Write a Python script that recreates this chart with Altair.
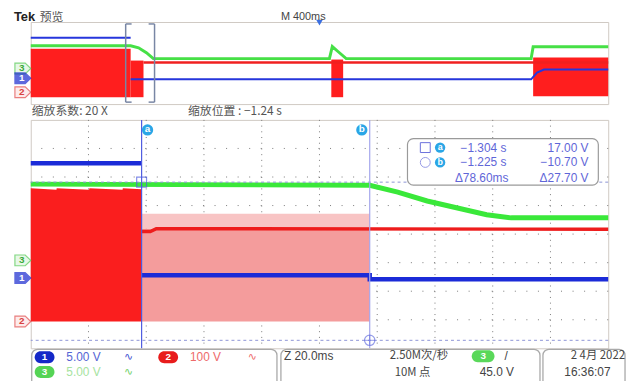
import altair as alt
import pandas as pd

LAT = "Liberation Sans"
CJK = "Noto Sans CJK SC"

# ------------------------------------------------------------------
# Values.
# Time in seconds (relative to trigger), vertical position in screen
# divisions (0 = bottom graticule line, 8 = top graticule line).
# ------------------------------------------------------------------
# overview record: M 400 ms/div x 10 div
OV_T0, OV_T1 = -2.0, 2.0
# zoom window: factor 20 -> 20 ms/div x 10 div
MAIN_T0 = -1.3424
MAIN_T1 = MAIN_T0 + 0.200

# --- overview traces ---
ov_blue_t = [-2.0, -1.308, -1.308, 1.466, 1.507, 1.555, 2.0]
ov_blue_y = [6.46, 6.46, 2.41, 2.41, 3.08, 3.37, 3.37]
ov_blue_seg = [0, 0, 1, 1, 1, 1, 1]

ov_green_t = [-2.0, -1.308, -1.253, -1.199, -1.151, 0.069, 0.089, 0.130, 0.185, 1.466, 1.480, 2.0]
ov_green_y = [5.69, 5.69, 5.49, 5.01, 4.43, 4.43, 5.61, 5.10, 4.43, 4.43, 5.59, 5.59]

ov_red_t0 = [-2.0, -1.308, 0.082, 1.480]
ov_red_t1 = [-1.308, -1.219, 0.164, 2.0]
ov_red_top = [5.40, 4.24, 4.34, 4.53]
ov_red_bot = [0.67, 0.67, 0.67, 0.77]
ov_red_line_t = [-1.219, 2.0]
ov_red_line_y = [4.05, 4.05]

trigger_t = [0.0]

# --- zoomed traces ---
m_blue_t = [MAIN_T0, -1.304, -1.304, -1.225, -1.225, MAIN_T1]
m_blue_y = [6.48, 6.48, 2.56, 2.56, 2.42, 2.42]
m_blue_seg = [0, 0, 1, 1, 1, 1]

m_green_t = [MAIN_T0, -1.225, -1.2153, -1.2051, -1.1931, -1.1845, -1.1760, MAIN_T1]
m_green_y = [5.75, 5.71, 5.47, 5.16, 4.88, 4.68, 4.57, 4.57]

# ch2 while switching hard (envelope top, sawtooth)
m_red_on_t = [MAIN_T0, -1.3335, -1.3334, -1.3222, -1.3221, -1.3106, -1.3105, -1.304]
m_red_on_top = [5.61, 5.55, 5.61, 5.55, 5.61, 5.55, 5.61, 5.57]
m_red_bottom = 0.935
# ch2 light switching band between the cursors
m_band_t0, m_band_t1 = [-1.304], [-1.225]
m_band_top, m_band_mid = [4.71], [4.19]
# ch2 average level
m_red_t = [-1.304, -1.3010, -1.2989, MAIN_T1]
m_red_y = [4.09, 4.09, 4.19, 4.17]

# cursors (readout values)
cur_t = [-1.304, -1.225]
cur_v = [17.00, -10.70]
CH1_OFFSET_DIV = 2.42
CH1_VOLTS_PER_DIV = 5.0
cur_div = [CH1_OFFSET_DIV + v / CH1_VOLTS_PER_DIV for v in cur_v]
cur_names = ["a", "b"]

# channel markers
ch_ids = ["3", "1", "2"]
ch_colors = ["#4fc84f", "#1a2ad0", "#e04848"]
ov_marker_y = [3.47, 2.51, 1.16]
main_marker_y = [3.08, 2.46, 0.94]

# readout texts
readout_time = ["\u22121.304 s", "\u22121.225 s"]
readout_volt = ["17.00 V", "\u221210.70 V"]
readout_delta = ["\u039478.60ms", "\u039427.70 V"]

# ------------------------------------------------------------------
def X(field, dom):
    return alt.X(f"{field}:Q", scale=alt.Scale(domain=dom, nice=False, zero=False), axis=None)


def Y(field):
    return alt.Y(f"{field}:Q", scale=alt.Scale(domain=[0, 8], nice=False, zero=False), axis=None)


def trace(t, y, dom, color, width, seg=None):
    df = pd.DataFrame({"t": t, "y": y, "i": list(range(len(t))),
                       "s": seg if seg is not None else [0] * len(t)})
    return alt.Chart(df).mark_line(color=color, strokeWidth=width).encode(
        x=X("t", dom), y=Y("y"), order="i:Q", detail="s:N")


def rects(t0, t1, y0, y1, dom, color):
    df = pd.DataFrame({"t0": t0, "t1": t1, "y0": y0, "y1": y1})
    return alt.Chart(df).mark_rect(color=color).encode(
        x=X("t0", dom), x2="t1:Q", y=Y("y0"), y2="y1:Q")


def stext(rows, **kw):
    df = pd.DataFrame(rows, columns=["px", "py", "text"])
    return alt.Chart(df).mark_text(**kw).encode(
        x=alt.X("px:Q", scale=None, axis=None),
        y=alt.Y("py:Q", scale=None, axis=None),
        text="text:N")


def sbox(rows, **kw):
    df = pd.DataFrame(rows, columns=["px", "px2", "py", "py2"])
    return alt.Chart(df).mark_rect(**kw).encode(
        x=alt.X("px:Q", scale=None, axis=None), x2="px2:Q",
        y=alt.Y("py:Q", scale=None, axis=None), y2="py2:Q")


def markers(ys, dom):
    df = pd.DataFrame({"t": [dom[0]] * 3, "y": ys, "id": ch_ids, "c": ch_colors,
                       "f": ["#dff5df", "#1a2ad0", "#fde3e3"],
                       "tc": ["#3aaa3a", "white", "#d84040"]})
    tag = "M -1 -0.68 L 0.3 -0.68 L 1 0 L 0.3 0.68 L -1 0.68 Z"
    pts = alt.Chart(df).mark_point(shape=tag, size=256, filled=True, xOffset=-8, strokeWidth=1.2).encode(
        x=X("t", dom), y=Y("y"),
        fill=alt.Fill("f:N", scale=None), stroke=alt.Stroke("c:N", scale=None))
    lbl = alt.Chart(df).mark_text(dx=-9, fontSize=10, fontWeight="bold", font=LAT).encode(
        x=X("t", dom), y=Y("y"), text="id:N", color=alt.Color("tc:N", scale=None))
    return pts + lbl


OV = [OV_T0, OV_T1]
MD = [MAIN_T0, MAIN_T1]

# ------------------------- overview panel -------------------------
T = 6 / 146.0  # bracket tick length (s)
bracket_df = pd.DataFrame({
    "t": [MAIN_T0, MAIN_T0, MAIN_T0, MAIN_T1, MAIN_T1 - T, MAIN_T1 - T],
    "t2": [MAIN_T0, MAIN_T0 + T, MAIN_T0 + T, MAIN_T1, MAIN_T1, MAIN_T1],
    "y": [0.19, 7.81, 0.19, 0.19, 7.81, 0.19],
    "y2": [7.81, 7.81, 0.19, 7.81, 7.81, 0.19]})
bracket = alt.Chart(bracket_df).mark_rule(color="#7886a4", strokeWidth=1.5).encode(
    x=X("t", OV), x2="t2:Q", y=Y("y"), y2="y2:Q")

trig = alt.Chart(pd.DataFrame({"t": trigger_t, "y": [7.95]})).mark_point(
    shape="triangle-down", filled=True, color="#3b6fe0", size=45, opacity=1).encode(x=X("t", OV), y=Y("y"))

ov_header = (stext([(-17, -1, "Tek")], align="left", baseline="alphabetic", font=LAT,
                   fontSize=13, fontWeight="bold", color="#222222")
             + stext([(9, -1, "预览")], align="left", baseline="alphabetic", font=CJK,
                     fontSize=12, color="#555555")
             + stext([(253, -2, "M 400ms")], align="left", baseline="alphabetic", font=LAT,
                     fontSize=11, color="#444444"))

A = alt.layer(
    rects(ov_red_t0, ov_red_t1, ov_red_bot, ov_red_top, OV, "#ff1e1e"),
    trace(ov_red_line_t, ov_red_line_y, OV, "#f02020", 2.5),
    trace(ov_green_t, ov_green_y, OV, "#46e046", 3),
    trace(ov_blue_t, ov_blue_y, OV, "#2636dc", 2, ov_blue_seg),
    bracket, trig, markers(ov_marker_y, OV), ov_header,
).properties(width=584, height=83)

# --------------------------- main panel ---------------------------
grid_t = [MAIN_T0 + 0.02 * k for k in range(1, 10)]
grid_y = [1, 2, 3, 4, 5, 6, 7]
vgrid = alt.Chart(pd.DataFrame({"t": grid_t})).mark_rule(
    color="#7a7a7a", strokeDash=[1, 4.775], strokeWidth=1).encode(x=X("t", MD))
hgrid = alt.Chart(pd.DataFrame({"y": grid_y})).mark_rule(
    color="#7a7a7a", strokeDash=[1, 10.68], strokeWidth=1).encode(y=Y("y"))

red_on_df = pd.DataFrame({"t": m_red_on_t, "top": m_red_on_top,
                          "bot": [m_red_bottom] * len(m_red_on_t)})
red_on = alt.Chart(red_on_df).mark_area(color="#fa1e1e", opacity=1, line=False).encode(
    x=X("t", MD), y=Y("top"), y2=alt.Y2("bot:Q"))

band_hi = rects(m_band_t0, m_band_t1, m_band_mid, m_band_top, MD, "#f8c4c4")
band_lo = rects(m_band_t0, m_band_t1, [m_red_bottom], m_band_mid, MD, "#f49c9c")

cur_df = pd.DataFrame({"t": cur_t, "y": cur_div, "n": cur_names, "by": [7.65, 7.65]})
cur_h = alt.Chart(cur_df).mark_rule(color="#8d94d6", strokeDash=[3, 3], strokeWidth=1).encode(y=Y("y"))
cur_v_a = alt.Chart(cur_df.iloc[[0]]).mark_rule(color="#4d5be0", strokeWidth=1.2).encode(x=X("t", MD))
cur_v_b = alt.Chart(cur_df.iloc[[1]]).mark_rule(color="#a3a6ec", strokeWidth=1.2).encode(x=X("t", MD))
cur_sq = alt.Chart(cur_df.iloc[[0]]).mark_point(shape="square", size=100, filled=False,
                                                color="#5060e0", strokeWidth=1.2).encode(x=X("t", MD), y=Y("y"))
cur_ci = alt.Chart(cur_df.iloc[[1]]).mark_point(shape="circle", size=110, filled=False,
                                                color="#6a74e0", strokeWidth=1.2).encode(x=X("t", MD), y=Y("y"))
cur_cx = alt.Chart(cur_df.iloc[[1]]).mark_point(shape="M -1 0 L 1 0 M 0 -1 L 0 1", size=110, filled=False,
                                                color="#6a74e0", strokeWidth=1).encode(x=X("t", MD), y=Y("y"))
badge_a = alt.Chart(cur_df.iloc[[0]]).mark_point(shape="circle", size=130, filled=True, color="#2aa6e6",
                                                 opacity=1, xOffset=6).encode(x=X("t", MD), y=Y("by"))
badge_b = alt.Chart(cur_df.iloc[[1]]).mark_point(shape="circle", size=130, filled=True, color="#2aa6e6",
                                                 opacity=1, xOffset=-8).encode(x=X("t", MD), y=Y("by"))
badge_ta = alt.Chart(cur_df.iloc[[0]]).mark_text(dx=6, dy=-0.5, color="white", fontSize=10,
                                                 fontWeight="bold", font=LAT).encode(x=X("t", MD), y=Y("by"), text="n:N")
badge_tb = alt.Chart(cur_df.iloc[[1]]).mark_text(dx=-8, dy=-0.5, color="white", fontSize=10,
                                                 fontWeight="bold", font=LAT).encode(x=X("t", MD), y=Y("by"), text="n:N")

# readout box (screen coords relative to main plot origin)
RC = "#5f66d8"
readout = (
    sbox([(381, 574, 19, 66)], fill="white", stroke="#9a9a9a", strokeWidth=1.2, cornerRadius=6)
    + sbox([(394, 404, 23, 33)], fill="white", stroke="#6a70dc", strokeWidth=1)
    + alt.Chart(pd.DataFrame({"px": [399], "py": [43]})).mark_point(
        shape="circle", size=100, filled=False, color="#6a70dc", strokeWidth=1).encode(
        x=alt.X("px:Q", scale=None, axis=None), y=alt.Y("py:Q", scale=None, axis=None))
    + alt.Chart(pd.DataFrame({"px": [414, 414], "py": [28, 43]})).mark_point(
        shape="circle", size=110, filled=True, color="#2aa6e6", opacity=1).encode(
        x=alt.X("px:Q", scale=None, axis=None), y=alt.Y("py:Q", scale=None, axis=None))
    + stext([(414, 27.5, cur_names[0]), (414, 42.5, cur_names[1])], color="white", fontSize=9,
            fontWeight="bold", font=LAT)
    + stext([(481, 28, readout_time[0]), (481, 43, readout_time[1]), (483, 59, readout_delta[0])],
            align="right", baseline="middle", color=RC, fontSize=12, font=LAT)
    + stext([(564, 28, readout_volt[0]), (564, 43, readout_volt[1]), (564, 59, readout_delta[1])],
            align="right", baseline="middle", color=RC, fontSize=12, font=LAT)
)

# headers and status bar (screen coords relative to main plot origin)
main_header = stext([(1, -5, "缩放系数: 20 X"), (159, -5, "缩放位置 : \u22121.24 s")], align="left",
                    baseline="alphabetic", font=CJK, fontSize=12, color="#555555")

boxes = sbox([(1, 249, 232, 270), (253, 515, 232, 270), (518, 601, 232, 270)],
             fill="white", stroke="#a9a9a9", strokeWidth=1.3, cornerRadius=6)
pills_df = pd.DataFrame({"px": [4, 129, 4, 446], "px2": [24, 149, 24, 469],
                         "py": [234, 234, 249, 233], "py2": [246, 246, 261, 245],
                         "c": ["#1428c8", "#e81c1c", "#55d455", "#5ad85a"],
                         "t": ["1", "2", "3", "3"]})
pills = alt.Chart(pills_df).mark_rect(cornerRadius=6).encode(
    x=alt.X("px:Q", scale=None, axis=None), x2="px2:Q",
    y=alt.Y("py:Q", scale=None, axis=None), y2="py2:Q", fill=alt.Fill("c:N", scale=None))
pill_txt = alt.Chart(pills_df).transform_calculate(
    cx="(datum.px + datum.px2) / 2", cy="(datum.py + datum.py2) / 2").mark_text(
    color="white", fontSize=10, fontWeight="bold", font=LAT, baseline="middle").encode(
    x=alt.X("cx:Q", scale=None, axis=None), y=alt.Y("cy:Q", scale=None, axis=None), text="t:N")

status = (
    boxes + pills + pill_txt
    + stext([(36, 240, "5.00 V")], align="left", baseline="middle", font=LAT, fontSize=12, color="#5565d5")
    + stext([(161, 240, "100 V")], align="left", baseline="middle", font=LAT, fontSize=12, color="#ee6a6a")
    + stext([(36, 255, "5.00 V")], align="left", baseline="middle", font=LAT, fontSize=12, color="#a6e3a0")
    + stext([(99, 240, "\u223f")], baseline="middle", font="DejaVu Sans", fontSize=11, color="#3f4fd0")
    + stext([(224, 240, "\u223f")], baseline="middle", font="DejaVu Sans", fontSize=11, color="#ee6a6a")
    + stext([(99, 255, "\u223f")], baseline="middle", font="DejaVu Sans", fontSize=11, color="#6fd06a")
    + stext([(256, 239, "Z 20.0ms")], align="left", baseline="middle", font=LAT, fontSize=12, color="#444444")
    + stext([(363, 238.5, "2.50M次/秒"), (368, 255.5, "10M 点")], align="left", baseline="middle",
            font=CJK, fontSize=11.5, color="#444444")
    + stext([(479, 239, "/")], align="left", baseline="middle", font=LAT, fontSize=12, color="#444444")
    + stext([(454, 255, "45.0 V")], align="left", baseline="middle", font=LAT, fontSize=12, color="#444444")
    + stext([(601, 238.5, "2 4月 2022")], align="right", baseline="middle", font=CJK, fontSize=11.5,
            color="#444444")
    + stext([(563, 255, "16:36:07")], align="center", baseline="middle", font=LAT, fontSize=12,
            color="#444444")
)

B = alt.layer(
    vgrid, hgrid,
    red_on, band_hi, band_lo,
    trace(m_red_t, m_red_y, MD, "#ee1c1c", 3.5),
    trace(m_green_t, m_green_y, MD, "#3ae83a", 5),
    trace(m_blue_t, m_blue_y, MD, "#1b2bd8", 4.5, m_blue_seg),
    cur_h, cur_v_a, cur_v_b, cur_sq, cur_ci, cur_cx,
    badge_a, badge_b, badge_ta, badge_tb,
    readout, markers(main_marker_y, MD), main_header, status,
).properties(width=584, height=231)

chart = alt.vconcat(A, B, spacing=16, bounds="flush").properties(
    padding={"left": 4, "top": 0, "right": 0, "bottom": 0}, background="white"
).configure_view(stroke="#cfc9c3", strokeWidth=1)

chart.save("out.html", embed_options={"renderer": "svg", "actions": False})
